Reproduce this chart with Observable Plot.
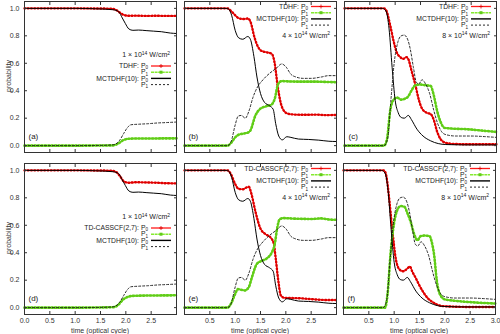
<!DOCTYPE html>
<html><head><meta charset="utf-8">
<script src="https://cdn.jsdelivr.net/npm/d3@7"></script>
<script src="https://cdn.jsdelivr.net/npm/@observablehq/plot@0.6"></script>
<style>
body{margin:0;background:#fff;}
#wrap{position:relative;width:500px;height:334px;overflow:hidden;font-family:"Liberation Sans",Arial,sans-serif;color:#333;}
#wrap svg{position:absolute;overflow:visible;background:none;}
.lab{position:absolute;font-size:7px;white-space:nowrap;}
</style></head><body><div id="wrap"></div>
<script>
// ---------- data: [time (optical cycle), probability] ----------
// 1e14 W/cm^2
const aTD_P0 = [[0,1],[1.0,1],[1.7,0.998],[1.8,0.99],[1.88,0.97],[1.96,0.952],[2.05,0.946],[2.2,0.947],[2.4,0.945],[2.6,0.946],[2.8,0.945],[3.0,0.945]];
const aTD_P1 = [[0,0],[1.0,0],[1.75,0.002],[1.85,0.015],[1.95,0.04],[2.05,0.05],[2.2,0.052],[2.5,0.052],[2.8,0.053],[3.0,0.053]];
const dTD_P0 = [[0,1],[1.0,1],[1.7,0.998],[1.8,0.99],[1.88,0.96],[1.96,0.92],[2.05,0.91],[2.2,0.913],[2.4,0.912],[2.6,0.91],[2.8,0.906],[3.0,0.905]];
const dTD_P1 = [[0,0],[1.0,0],[1.75,0.003],[1.85,0.02],[1.95,0.06],[2.05,0.08],[2.15,0.086],[2.4,0.088],[2.7,0.089],[3.0,0.09]];
const mc1_P0 = [[0,1],[1.0,1],[1.4,0.997],[1.75,0.99],[1.86,0.975],[1.93,0.93],[1.99,0.89],[2.06,0.85],[2.14,0.84],[2.25,0.842],[2.4,0.838],[2.55,0.834],[2.7,0.83],[2.88,0.82],[3.0,0.817]];
const mc1_P1 = [[0,0],[1.0,0],[1.7,0.004],[1.8,0.012],[1.88,0.04],[1.96,0.09],[2.04,0.135],[2.1,0.152],[2.25,0.156],[2.45,0.16],[2.62,0.165],[2.8,0.168],[3.0,0.172]];
// 4e14 W/cm^2
const bTD_P0 = [[0,1],[0.85,1],[0.92,0.98],[1.0,0.95],[1.07,0.928],[1.17,0.922],[1.25,0.926],[1.3,0.905],[1.38,0.79],[1.45,0.72],[1.52,0.69],[1.62,0.68],[1.72,0.67],[1.78,0.6],[1.84,0.43],[1.9,0.31],[1.97,0.25],[2.05,0.232],[2.2,0.226],[2.4,0.225],[2.6,0.226],[2.8,0.222],[3.0,0.224]];
const bTD_P1 = [[0,0],[0.85,0],[0.92,0.02],[1.0,0.06],[1.07,0.08],[1.17,0.088],[1.25,0.095],[1.3,0.11],[1.4,0.22],[1.5,0.27],[1.6,0.285],[1.72,0.3],[1.78,0.34],[1.85,0.45],[1.92,0.47],[2.05,0.468],[2.3,0.466],[2.6,0.466],[2.8,0.464],[3.0,0.462]];
const eTD_P0 = [[0,1],[0.85,1],[0.92,0.97],[1.0,0.9],[1.07,0.865],[1.15,0.862],[1.22,0.875],[1.27,0.88],[1.32,0.83],[1.4,0.7],[1.5,0.575],[1.6,0.535],[1.7,0.51],[1.76,0.47],[1.8,0.36],[1.85,0.2],[1.9,0.09],[1.97,0.072],[2.1,0.07],[2.3,0.068],[2.5,0.062],[2.7,0.057],[3.0,0.055]];
const eTD_P1 = [[0,0],[0.85,0],[0.92,0.03],[1.0,0.1],[1.05,0.135],[1.12,0.13],[1.19,0.125],[1.27,0.15],[1.33,0.22],[1.43,0.32],[1.52,0.34],[1.63,0.36],[1.72,0.4],[1.78,0.46],[1.83,0.58],[1.88,0.645],[1.95,0.652],[2.2,0.648],[2.5,0.646],[2.7,0.65],[2.85,0.642],[3.0,0.64]];
const mc4_P0 = [[0,1],[0.8,1],[0.87,0.995],[0.93,0.95],[1.0,0.84],[1.07,0.785],[1.15,0.775],[1.25,0.795],[1.3,0.775],[1.37,0.65],[1.43,0.5],[1.5,0.38],[1.58,0.315],[1.68,0.29],[1.75,0.265],[1.8,0.16],[1.86,0.07],[1.93,0.042],[2.02,0.065],[2.1,0.06],[2.25,0.048],[2.45,0.045],[2.65,0.04],[2.85,0.032],[3.0,0.03]];
const mc4_P1 = [[0,0],[0.85,0],[0.92,0.03],[1.0,0.15],[1.06,0.215],[1.12,0.22],[1.2,0.2],[1.27,0.25],[1.35,0.35],[1.43,0.42],[1.55,0.48],[1.69,0.53],[1.8,0.56],[1.92,0.595],[2.0,0.575],[2.1,0.52],[2.2,0.5],[2.35,0.49],[2.5,0.49],[2.7,0.5],[2.85,0.51],[3.0,0.51]];
// 8e14 W/cm^2
const cTD_P0 = [[0,1],[0.78,1],[0.83,0.98],[0.9,0.88],[0.97,0.76],[1.03,0.68],[1.1,0.645],[1.16,0.632],[1.22,0.645],[1.26,0.63],[1.32,0.55],[1.4,0.44],[1.47,0.33],[1.53,0.27],[1.62,0.24],[1.7,0.23],[1.76,0.19],[1.83,0.1],[1.9,0.045],[2.0,0.02],[2.2,0.012],[2.5,0.01],[3.0,0.01]];
const cTD_P1 = [[0,0],[0.78,0],[0.84,0.05],[0.9,0.25],[0.96,0.33],[1.04,0.35],[1.12,0.335],[1.18,0.34],[1.26,0.36],[1.32,0.4],[1.4,0.44],[1.5,0.445],[1.6,0.44],[1.7,0.435],[1.76,0.37],[1.83,0.25],[1.9,0.17],[1.97,0.13],[2.1,0.125],[2.4,0.12],[2.7,0.11],[3.0,0.1]];
const fTD_P0 = [[0,1],[0.8,1],[0.85,0.95],[0.9,0.8],[0.96,0.58],[1.03,0.36],[1.1,0.28],[1.18,0.265],[1.26,0.285],[1.31,0.3],[1.36,0.26],[1.42,0.22],[1.5,0.16],[1.58,0.11],[1.66,0.07],[1.76,0.04],[1.86,0.02],[2.0,0.01],[2.5,0.005],[3.0,0.005]];
const fTD_P1 = [[0,0],[0.82,0],[0.87,0.1],[0.93,0.4],[1.0,0.62],[1.06,0.71],[1.13,0.74],[1.2,0.735],[1.26,0.69],[1.33,0.62],[1.4,0.53],[1.46,0.49],[1.52,0.52],[1.6,0.525],[1.7,0.52],[1.74,0.48],[1.79,0.38],[1.84,0.2],[1.9,0.1],[2.0,0.06],[2.2,0.05],[2.5,0.04],[3.0,0.03]];
const mc8_P0 = [[0,1],[0.75,1],[0.82,0.98],[0.88,0.85],[0.94,0.57],[1.0,0.33],[1.06,0.24],[1.12,0.205],[1.18,0.2],[1.26,0.22],[1.32,0.19],[1.43,0.12],[1.55,0.07],[1.7,0.035],[1.85,0.015],[2.0,0.008],[2.5,0.005],[3.0,0.005]];
const mc8_P1 = [[0,0],[0.78,0],[0.85,0.05],[0.92,0.35],[0.98,0.6],[1.05,0.75],[1.12,0.8],[1.18,0.805],[1.25,0.77],[1.3,0.7],[1.36,0.57],[1.42,0.46],[1.47,0.45],[1.53,0.48],[1.6,0.45],[1.68,0.38],[1.76,0.26],[1.84,0.16],[1.92,0.1],[2.0,0.08],[2.2,0.07],[2.5,0.07],[2.8,0.065],[3.0,0.06]];

const xTicks = [0,0.5,1,1.5,2,2.5,3];
const yTicks = [0,0.2,0.4,0.6,0.8,1];
const xLabelsD = [0,0.5,1,1.5,2,2.5];
const xLabelsE = [0.5,1,1.5,2,2.5];
const xLabelsF = [0.5,1,1.5,2,2.5,3];
const intensities = ["1","4","8"];
const methods = ["TDHF","TD-CASSCF(2,7)"];
const panelNames = ["(a)","(b)","(c)","(d)","(e)","(f)"];

// ---------- layout ----------
const RED="#ff1a1a", RED_D="#dd0000", GRN="#85ea30", GRN_D="#60cc18";
const colX=[24,184,344], rowY=[0.5,162.5], FW=152, FH=151;
const ML=26, MR=4, MT=2, MB=22;
const FONT='"Liberation Sans", Arial, sans-serif';
const wrap=document.getElementById("wrap");

const panels=[
 {name:panelNames[0],col:0,row:0,td0:aTD_P0,td1:aTD_P1,mc0:mc1_P0,mc1:mc1_P1,method:methods[0],inten:intensities[0],low:true},
 {name:panelNames[1],col:1,row:0,td0:bTD_P0,td1:bTD_P1,mc0:mc4_P0,mc1:mc4_P1,method:methods[0],inten:intensities[1],low:false},
 {name:panelNames[2],col:2,row:0,td0:cTD_P0,td1:cTD_P1,mc0:mc8_P0,mc1:mc8_P1,method:methods[0],inten:intensities[2],low:false},
 {name:panelNames[3],col:0,row:1,td0:dTD_P0,td1:dTD_P1,mc0:mc1_P0,mc1:mc1_P1,method:methods[1],inten:intensities[0],low:true,xl:xLabelsD},
 {name:panelNames[4],col:1,row:1,td0:eTD_P0,td1:eTD_P1,mc0:mc4_P0,mc1:mc4_P1,method:methods[1],inten:intensities[1],low:false,xl:xLabelsE},
 {name:panelNames[5],col:2,row:1,td0:fTD_P0,td1:fTD_P1,mc0:mc8_P0,mc1:mc8_P1,method:methods[1],inten:intensities[2],low:false,xl:xLabelsF},
];

const X=d=>d[0], Y=d=>d[1];
const blank=()=>"";

panels.forEach(p=>{
  const cx = p.col===2 && p.row===1 ? 343 : colX[p.col];
  const marks=[
    Plot.line(p.td0,{x:X,y:Y,stroke:RED,strokeWidth:1.3,curve:"monotone-x"}),
    Plot.line(p.td0,{x:X,y:Y,stroke:RED_D,strokeWidth:2.4,strokeDasharray:"0.7 2.6",curve:"monotone-x"}),
    Plot.line(p.td1,{x:X,y:Y,stroke:GRN,strokeWidth:1.6,curve:"monotone-x"}),
    Plot.line(p.td1,{x:X,y:Y,stroke:GRN_D,strokeWidth:2.6,strokeDasharray:"1 2.4",curve:"monotone-x"}),
    Plot.line(p.mc0,{x:X,y:Y,stroke:"#000",strokeWidth:1,curve:"monotone-x"}),
    Plot.line(p.mc1,{x:X,y:Y,stroke:"#111",strokeWidth:0.9,strokeDasharray:"2 2",curve:"monotone-x"}),
    Plot.frame({stroke:"#333"}),
    Plot.axisX({ticks:xTicks,tickSize:-3,tickFormat:blank,label:null,stroke:"#333"}),
    Plot.axisX({anchor:"top",ticks:xTicks,tickSize:-3,tickFormat:blank,label:null,stroke:"#333"}),
    Plot.axisY({ticks:yTicks,tickSize:-3,tickFormat:blank,label:null,stroke:"#333"}),
    Plot.axisY({anchor:"right",ticks:yTicks,tickSize:-3,tickFormat:blank,label:null,stroke:"#333"}),
    Plot.text([p.name],{text:d=>d,frameAnchor:"bottom-left",dx:4,dy:-14,textAnchor:"start",fontSize:8,fill:"#222"})
  ];
  if(p.xl) marks.push(Plot.axisX({ticks:p.xl,tickSize:0,tickPadding:4,tickFormat:d3.format(".1f"),label:null,fill:"#333"}));
  if(p.col===0) marks.push(Plot.axisY({ticks:yTicks,tickSize:0,tickPadding:5,tickFormat:d3.format(".1f"),label:null,fill:"#333"}));
  const el=Plot.plot({
    width:FW+ML+MR,height:FH+MT+MB,marginLeft:ML,marginRight:MR,marginTop:MT,marginBottom:MB,
    x:{domain:[0,3]},y:{domain:[-0.05,1.05]},
    style:{fontSize:"7px",fontFamily:FONT,background:"transparent",overflow:"visible"},
    marks
  });
  el.style.left=(cx-ML)+"px";
  el.style.top=(rowY[p.row]-MT)+"px";
  wrap.appendChild(el);

  // legend (layout only)
  const svg=d3.select(el);
  const g=svg.append("g").attr("transform",`translate(${ML},${MT})`)
    .attr("font-family",FONT).attr("fill","#222");
  const r0=p.low?65:5.5, dr=6.2;
  const intenY=p.low?54:34.5;
  const tx=FW-28, lx0=FW-25, lx1=FW-5;
  const items=[
    {t:p.method+": P",s:"0",k:"r"},
    {t:"P",s:"1",k:"g"},
    {t:"MCTDHF(10): P",s:"0",k:"b"},
    {t:"P",s:"1",k:"d"}
  ];
  items.forEach((it,i)=>{
    const y=r0+i*dr;
    const t=g.append("text").attr("x",tx).attr("y",y+2.2).attr("text-anchor","end").attr("font-size",6.8);
    t.append("tspan").text(it.t);
    t.append("tspan").attr("font-size",4.6).attr("dy",1.2).text(it.s);
    const ln=g.append("line").attr("x1",lx0).attr("x2",lx1).attr("y1",y).attr("y2",y);
    const mid=(lx0+lx1)/2;
    if(it.k==="r"){ln.attr("stroke",RED).attr("stroke-width",1.3);
      g.append("path").attr("d",`M${mid-2},${y}h4M${mid},${y-2}v4`).attr("stroke",RED_D).attr("stroke-width",0.8);}
    if(it.k==="g"){ln.attr("stroke",GRN).attr("stroke-width",1.5).attr("stroke-dasharray","3 0.6");
      g.append("rect").attr("x",mid-1.5).attr("y",y-1.5).attr("width",3).attr("height",3).attr("fill",GRN_D);}
    if(it.k==="b"){ln.attr("stroke","#000").attr("stroke-width",1.4);}
    if(it.k==="d"){ln.attr("stroke","#111").attr("stroke-width",0.9).attr("stroke-dasharray","2 2");}
  });
  const it=g.append("text").attr("x",FW-6).attr("y",intenY+2.4).attr("text-anchor","end").attr("font-size",7);
  it.append("tspan").text(p.inten+" × 10");
  it.append("tspan").attr("font-size",5).attr("dy",-2.8).text("14");
  it.append("tspan").attr("dy",2.8).text(" W/cm");
  it.append("tspan").attr("font-size",5).attr("dy",-2.8).text("2");
});

// axis titles
[75.5,238].forEach(cy=>{
  const d=document.createElement("div");
  d.className="lab";
  d.textContent="probability";
  d.style.left="8px";d.style.top=cy+"px";
  d.style.transform="translate(-50%,-50%) rotate(-90deg)";
  wrap.appendChild(d);
});
[100,260,419].forEach(cx=>{
  const d=document.createElement("div");
  d.className="lab";
  d.textContent="time (optical cycle)";
  d.style.left=cx+"px";d.style.top="330px";
  d.style.transform="translate(-50%,-50%)";
  wrap.appendChild(d);
});
</script></body></html>
